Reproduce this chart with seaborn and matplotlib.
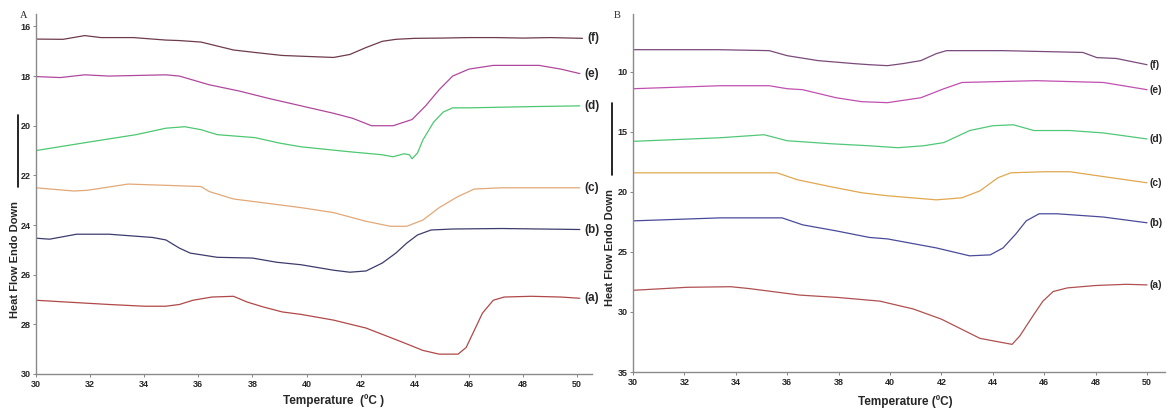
import numpy as np
import pandas as pd
import matplotlib
matplotlib.use("Agg")
import matplotlib.pyplot as plt
from matplotlib.lines import Line2D
import seaborn as sns
from matplotlib import font_manager

# ---------------- data ----------------
sample_labels = ["(a)", "(b)", "(c)", "(d)", "(e)", "(f)"]

# Panel A
A_a_x = [30, 31.1, 32.7, 34, 34.8, 35.3, 35.8, 36.5, 37.3, 37.8, 38.4, 39.1, 39.8, 41, 42.2, 43.5, 44.3, 44.9, 45.6, 45.9, 46.2, 46.5, 46.9, 47.3, 48.3, 49.4, 50.1]
A_a_y = [27.03, 27.1, 27.2, 27.27, 27.27, 27.2, 27.03, 26.9, 26.87, 27.1, 27.3, 27.5, 27.6, 27.83, 28.15, 28.7, 29.05, 29.2, 29.2, 28.93, 28.24, 27.55, 27.03, 26.9, 26.87, 26.9, 26.95]

A_b_x = [30, 30.5, 31.5, 32.7, 34.3, 34.8, 35.3, 35.7, 36.7, 38.0, 38.9, 39.8, 41, 41.6, 42.2, 42.8, 43.3, 43.7, 44.1, 44.6, 45.4, 47.2, 50.1]
A_b_y = [24.53, 24.57, 24.37, 24.37, 24.5, 24.6, 24.93, 25.13, 25.3, 25.33, 25.5, 25.6, 25.82, 25.9, 25.85, 25.53, 25.13, 24.73, 24.4, 24.2, 24.16, 24.14, 24.18]

A_c_x = [30, 31.4, 31.9, 33.4, 34.8, 36.1, 36.4, 37.3, 39.8, 41, 42.2, 43.1, 43.7, 44.3, 44.9, 45.6, 46.2, 47.2, 50.1]
A_c_y = [22.5, 22.63, 22.6, 22.35, 22.4, 22.45, 22.65, 22.95, 23.3, 23.5, 23.85, 24.05, 24.05, 23.8, 23.3, 22.85, 22.55, 22.5, 22.5]

A_d_x = [30, 32, 33.7, 34.8, 35.5, 36.1, 36.7, 38.1, 39.0, 39.8, 41.6, 42.8, 43.2, 43.6, 43.8, 43.9, 44.1, 44.3, 44.7, 45.05, 45.4, 46, 48.3, 50.1]
A_d_y = [21.0, 20.65, 20.36, 20.1, 20.04, 20.16, 20.36, 20.48, 20.7, 20.85, 21.05, 21.17, 21.25, 21.13, 21.17, 21.33, 21.1, 20.57, 19.85, 19.45, 19.28, 19.28, 19.23, 19.2]

A_e_x = [30, 30.9, 31.8, 32.7, 34.8, 35.3, 36.4, 37.5, 38.6, 39.8, 41, 41.7, 42.4, 43.2, 43.9, 44.4, 44.9, 45.4, 46, 46.9, 48.6, 49.4, 50.1]
A_e_y = [18.02, 18.06, 17.95, 18.0, 17.95, 18.0, 18.35, 18.6, 18.9, 19.2, 19.5, 19.7, 20.0, 20.0, 19.75, 19.2, 18.55, 18.0, 17.72, 17.57, 17.57, 17.72, 17.9]

A_f_x = [30, 31, 31.8, 32.4, 33.6, 34.8, 35.3, 36.1, 37.3, 38.1, 39.1, 39.8, 41, 41.6, 42.2, 42.8, 43.3, 44, 45, 46, 47, 48, 49, 50.2]
A_f_y = [16.51, 16.52, 16.37, 16.45, 16.45, 16.55, 16.57, 16.63, 16.95, 17.05, 17.17, 17.2, 17.25, 17.13, 16.85, 16.6, 16.52, 16.48, 16.47, 16.45, 16.45, 16.47, 16.45, 16.48]

# Panel B
B_a_x = [30, 32.1, 33.8, 34.5, 36.5, 38, 39.6, 40.9, 42, 43.5, 44.75, 45.05, 45.6, 45.95, 46.35, 46.9, 48, 49.2, 50.0]
B_a_y = [28.2, 27.95, 27.9, 28.05, 28.6, 28.8, 29.1, 29.75, 30.6, 32.2, 32.7, 32.0, 30.2, 29.1, 28.3, 28.0, 27.8, 27.7, 27.75]

B_b_x = [30, 33.4, 35.8, 36.6, 37.9, 39.2, 39.9, 41.8, 43.1, 43.9, 44.4, 44.9, 45.3, 45.8, 46.5, 48.3, 50.0]
B_b_y = [22.42, 22.17, 22.17, 22.75, 23.25, 23.8, 23.92, 24.67, 25.33, 25.25, 24.67, 23.5, 22.42, 21.83, 21.83, 22.1, 22.58]

B_c_x = [30, 35.3, 35.6, 36.4, 37.7, 38.9, 39.9, 41.8, 42.8, 43.5, 44.2, 44.7, 46, 47, 47.8, 50.0]
B_c_y = [18.42, 18.42, 18.42, 19.0, 19.58, 20.08, 20.33, 20.67, 20.5, 19.92, 18.83, 18.42, 18.33, 18.33, 18.58, 19.25]

B_d_x = [30, 33.4, 35.1, 36, 37.7, 39.2, 40.3, 41.3, 42.1, 43.1, 44, 44.8, 45.6, 47, 48.3, 50.0]
B_d_y = [15.8, 15.5, 15.25, 15.75, 16.0, 16.17, 16.33, 16.17, 15.9, 14.9, 14.5, 14.42, 14.9, 14.9, 15.1, 15.6]

B_e_x = [30, 33.4, 35.3, 36, 36.6, 37.9, 38.9, 39.9, 41.2, 42.1, 42.8, 45.7, 48.3, 50.0]
B_e_y = [11.42, 11.17, 11.17, 11.42, 11.5, 12.17, 12.5, 12.58, 12.17, 11.42, 10.9, 10.75, 10.9, 11.5]

B_f_x = [30, 33.3, 35.3, 36, 37.2, 38.6, 39.2, 39.9, 40.5, 41.2, 41.8, 42.2, 44.4, 47.5, 48.05, 48.8, 50.0]
B_f_y = [8.17, 8.17, 8.25, 8.67, 9.08, 9.33, 9.42, 9.5, 9.33, 9.08, 8.5, 8.25, 8.25, 8.4, 8.83, 8.9, 9.42]

A_xticks = [30, 32, 34, 36, 38, 40, 42, 44, 46, 48, 50]
A_yticks = [16, 18, 20, 22, 24, 26, 28, 30]
B_xticks = [30, 32, 34, 36, 38, 40, 42, 44, 46, 48, 50]
B_yticks = [10, 15, 20, 25, 30, 35]

A_colors = ["#b04848", "#3c3c6c", "#e2a878", "#4cc870", "#b0489e", "#6e3b4b"]
B_colors = ["#b05050", "#4a4a9a", "#e0a850", "#50c878", "#c050b0", "#7a4a7a"]

# ---------------- styling ----------------
sns.set_style("white")
names = {f.name for f in font_manager.fontManager.ttflist}
tick_family = "Liberation Sans Narrow" if "Liberation Sans Narrow" in names else "Liberation Sans"
plt.rcParams["font.family"] = ["Liberation Sans", "DejaVu Sans"]

fig = plt.figure(figsize=(11.68, 4.13), dpi=100)
W, H = 1168, 413

def axes_px(l, r, t, b):
    return fig.add_axes([l / W, 1 - b / H, (r - l) / W, (b - t) / H])

axA = axes_px(36, 592, 14, 374)
axB = axes_px(633, 1165, 14, 372)

panels = [
    (axA, [(A_a_x, A_a_y), (A_b_x, A_b_y), (A_c_x, A_c_y), (A_d_x, A_d_y), (A_e_x, A_e_y), (A_f_x, A_f_y)],
     A_colors, (30, 50.55), (30, 15.5), A_xticks, A_yticks, 3.5, 8.5),
    (axB, [(B_a_x, B_a_y), (B_b_x, B_b_y), (B_c_x, B_c_y), (B_d_x, B_d_y), (B_e_x, B_e_y), (B_f_x, B_f_y)],
     B_colors, (30, 50.7), (35, 5.2), B_xticks, B_yticks, 1.5, 7.5),
]

for ax, curves, cols, xl, yl, xt, yt, lab_off, lab_fs in panels:
    for (xs, ys), c, lab in zip(curves, cols, sample_labels):
        df = pd.DataFrame({"T": xs, "H": ys})
        sns.lineplot(data=df, x="T", y="H", ax=ax, color=c, linewidth=0.9,
                     estimator=None, sort=False)
        ax.annotate(lab, xy=(xs[-1], ys[-1]), xytext=(lab_off, 0),
                    textcoords="offset points", ha="left", va="center",
                    fontsize=lab_fs, fontweight="bold", annotation_clip=False)
    ax.set_xlim(*xl)
    ax.set_ylim(*yl)
    ax.set_xticks(xt)
    ax.set_yticks(yt)
    ax.set_xlabel("")
    ax.set_ylabel("")
    for s in ["top", "right"]:
        ax.spines[s].set_visible(False)
    for s in ["left", "bottom"]:
        ax.spines[s].set_color("#8a8a8a")
        ax.spines[s].set_linewidth(1.0)
    ax.tick_params(axis="both", which="major", length=2, width=0.6, color="#707070",
                   labelsize=6.5, pad=2, direction="out", left=True, bottom=True)
    for t in ax.get_xticklabels() + ax.get_yticklabels():
        t.set_family(tick_family)
        t.set_fontweight("bold")
    ax.grid(False)

# panel letters
fig.text(20 / W, 1 - 16 / H, "A", family="Liberation Serif", fontsize=7.5, va="center", ha="left")
fig.text(614 / W, 1 - 16 / H, "B", family="Liberation Serif", fontsize=7.5, va="center", ha="left")

# y labels
fig.text(15 / W, 1 - 260 / H, "Heat Flow Endo Down", rotation=90, fontsize=8,
         fontweight="bold", ha="center", va="center")
fig.text(610 / W, 1 - 248 / H, "Heat Flow Endo Down", rotation=90, fontsize=8,
         fontweight="bold", ha="center", va="center")

# x labels
fig.text(334 / W, 1 - 401 / H, "Temperature  (\u00baC )", fontsize=8.5,
         fontweight="bold", ha="center", va="center")
fig.text(905 / W, 1 - 402 / H, "Temperature (\u00baC)", fontsize=8.5,
         fontweight="bold", ha="center", va="center")

# scale bars
fig.add_artist(Line2D([18 / W, 18 / W], [1 - 115 / H, 1 - 187 / H], color="black", linewidth=1.2))
fig.add_artist(Line2D([612 / W, 612 / W], [1 - 103 / H, 1 - 175 / H], color="black", linewidth=1.2))

fig.savefig("out.png", dpi=100)
